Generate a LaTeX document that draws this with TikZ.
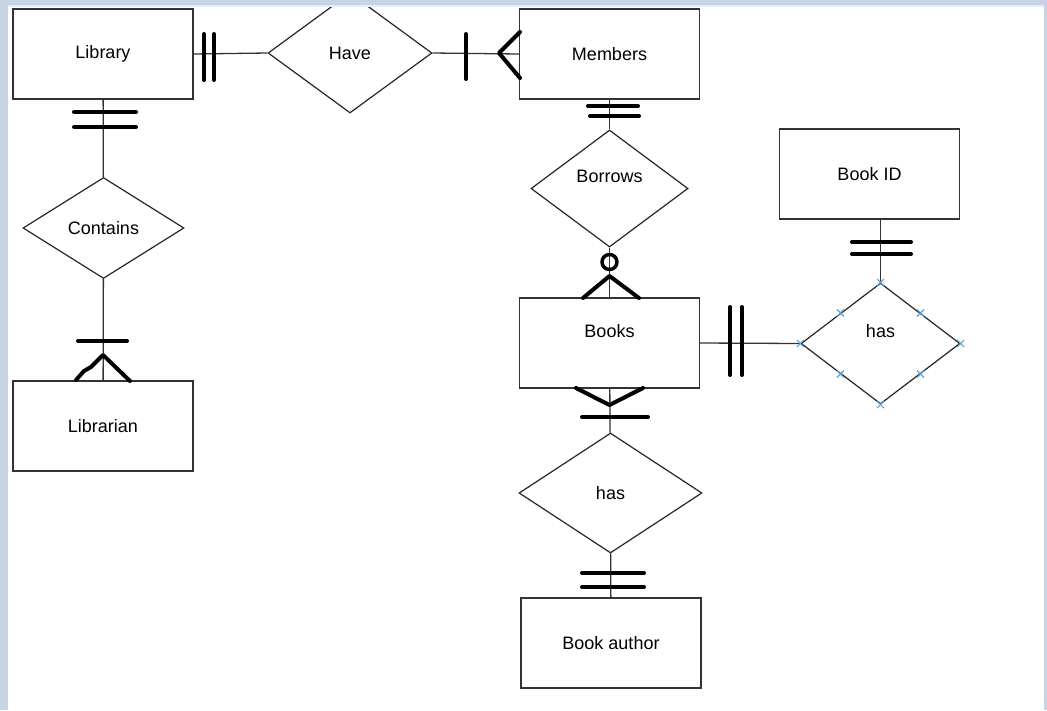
\documentclass[tikz,border=0pt]{standalone}
\usepackage{fontspec}
\setmainfont{Liberation Sans}
\usetikzlibrary{shapes.geometric}
\definecolor{framegrey}{RGB}{200,211,229}
\definecolor{handleblue}{RGB}{82,168,220}

\begin{document}
\begin{tikzpicture}[x=1pt,y=-1pt,
        entity/.style={rectangle,draw=black!80,line width=1.4pt,
                minimum width=180pt,minimum height=90pt,align=center,
                font=\fontsize{18}{21}\selectfont},
        relation/.style={diamond,draw=black!85,line width=1.2pt,inner sep=0pt,
                font=\fontsize{18}{21}\selectfont},
        raised/.style={text depth=25pt},
        link/.style={draw=black!80,line width=1.3pt},
        ink/.style={line width=4pt,line cap=round,line join=round},
        handle/.style={draw=handleblue,line width=1.1pt},
    ]
    \useasboundingbox (0,0) rectangle (1047,710);
    \fill[white] (0,0) rectangle (1047,710);

    % Entities and relations
    \node[entity] (library) at (103,54) {Library};
    \node[relation,minimum width=164pt,minimum height=120pt] (have) at (350,53) {Have};
    \node[entity] (members) at (609.5,54) {Members};
    \node[relation,raised,minimum width=157pt,minimum height=117pt] (borrows) at (609.5,188.5) {Borrows};
    \node[entity,raised] (books) at (609.5,343) {Books};
    \node[entity] (bookid) at (869.5,174) {Book ID};
    \node[relation,raised,minimum width=159pt,minimum height=121pt] (hasid) at (880.5,343.5) {has};
    \node[relation,minimum width=183pt,minimum height=120pt] (hasauthor) at (610.5,493) {has};
    \node[entity] (author) at (611,643) {Book author};
    \node[relation,minimum width=161pt,minimum height=101pt] (contains) at (103.5,228) {Contains};
    \node[entity] (librarian) at (103,426) {Librarian};

    % Connectors
    \draw[link] (library.east) -- (have.west);
    \draw[link] (have.east) -- (members.west);
    \draw[link] (library) -- (contains);
    \draw[link] (contains) -- (librarian);
    \draw[link] (members) -- (borrows);
    \draw[link] (borrows) -- (books);
    \draw[link] (books.east) -- (hasid.west);
    \draw[link] (hasid.north |- bookid.south) -- (hasid.north);
    \draw[link] (books) -- (hasauthor);
    \draw[link] (hasauthor) -- (author);

    % Cardinality marks
    \draw[ink] (204,34) -- (204,80) (214,34) -- (214,80);      % Library -- Have
    \draw[ink] (466,34) -- (466,79);                          % Have -- Members
    \draw[ink] (520,32) -- (499,53) -- (520,78);
    \draw[ink] (74,112) -- (136,112) (74,127) -- (136,127);   % Library -- Contains
    \draw[ink] (78,341) -- (127,341);                         % Contains -- Librarian
    \draw[ink] (76,380) -- (84,371) -- (91,367) -- (103,355) -- (130,381);
    \draw[ink] (588,106) -- (638,106) (590,116) -- (639,116); % Members -- Borrows
    \draw[ink,line width=3.5pt] (609.5,262) circle (7.5);     % Borrows -- Books
    \draw[ink] (583,298) -- (609.5,276) -- (639,298);
    \draw[ink] (576,388) -- (609.5,405) -- (643,388);         % Books -- has
    \draw[ink] (582,417) -- (648,417);
    \draw[ink] (582,573) -- (644,573) (582,587) -- (644,587); % has -- Book author
    \draw[ink] (730,307) -- (730,375) (742,307) -- (742,375); % Books -- has
    \draw[ink] (852,242) -- (911,242) (852,254) -- (911,254); % Book ID -- has

    % Selection handles
    \foreach \a in {north,north east,east,south east,south,south west,west,north west} {
            \draw[handle] (hasid.\a) ++(-3.5,-3.5) -- ++(7,7) ++(-7,0) -- ++(7,-7);
        }

    % Window frame
    \fill[framegrey] (0,0) rectangle (1047,5);
    \fill[framegrey] (0,0) rectangle (8,710);
    \fill[framegrey] (1044,0) rectangle (1047,710);
    \draw[white!60!framegrey,line width=1.5pt] (8,6) -- (1044,6);

\end{tikzpicture}
\end{document}
